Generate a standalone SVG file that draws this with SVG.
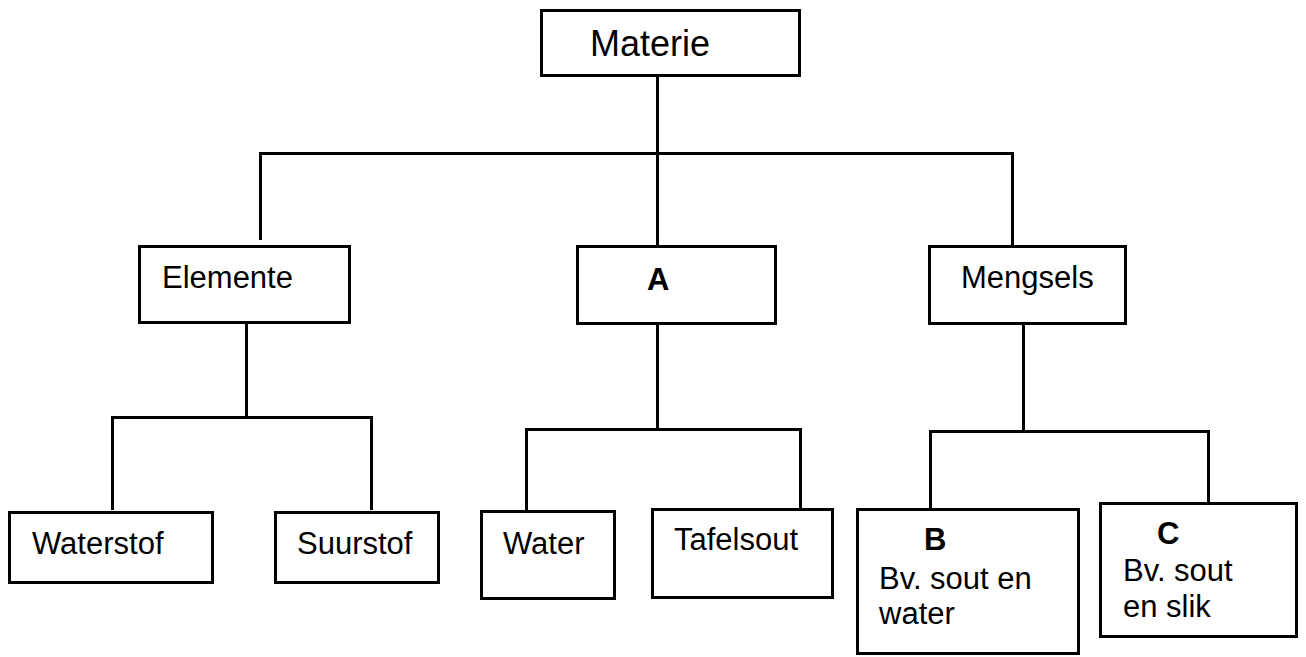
<svg xmlns="http://www.w3.org/2000/svg" width="1306" height="657" viewBox="0 0 1306 657">
<style>
.box{fill:#fff;stroke:#000;stroke-width:3}
.ln{fill:none;stroke:#000;stroke-width:3}
text{font-family:"Liberation Sans",Arial,sans-serif;fill:#000;font-size:31px}
.big{font-size:36px}
.b{font-weight:bold}
</style>
<rect width="1306" height="657" fill="#fff"/>
<g id="connectors">
<path class="ln" d="M657.5 76 V153.5"/>
<path class="ln" d="M260.5 240 V153.5 H1012.5 V246"/>
<path class="ln" d="M657.5 153.5 V246"/>
<path class="ln" d="M246.5 323 V417.5"/>
<path class="ln" d="M112.5 510 V417.5 H371.5 V510"/>
<path class="ln" d="M657.5 324 V429.5"/>
<path class="ln" d="M526.5 510 V429.5 H800.5 V508"/>
<path class="ln" d="M1023.5 324 V431.5"/>
<path class="ln" d="M930.5 508 V431.5 H1208.5 V502"/>
</g>
<g id="materie"><rect class="box" x="541.5" y="10.5" width="258" height="65"/><text class="big" x="590" y="56">Materie</text></g>
<g id="elemente"><rect class="box" x="139.5" y="246.5" width="210" height="76"/><text x="162" y="288">Elemente</text></g>
<g id="a"><rect class="box" x="577.5" y="246.5" width="198" height="77"/><text class="b" x="647" y="290">A</text></g>
<g id="mengsels"><rect class="box" x="929.5" y="246.5" width="196" height="77"/><text x="961" y="288">Mengsels</text></g>
<g id="waterstof"><rect class="box" x="9.5" y="512.5" width="203" height="70"/><text x="32" y="554">Waterstof</text></g>
<g id="suurstof"><rect class="box" x="275.5" y="512.5" width="163" height="70"/><text x="297" y="554">Suurstof</text></g>
<g id="water"><rect class="box" x="481.5" y="511.5" width="133" height="87"/><text x="503" y="554">Water</text></g>
<g id="tafelsout"><rect class="box" x="652.5" y="509.5" width="180" height="88"/><text x="674" y="550">Tafelsout</text></g>
<g id="b"><rect class="box" x="857.5" y="509.5" width="221" height="144"/><text class="b" x="924" y="550">B</text><text x="879" y="589">Bv. sout en</text><text x="879" y="624">water</text></g>
<g id="c"><rect class="box" x="1100.5" y="503.5" width="196" height="133"/><text class="b" x="1157" y="544">C</text><text x="1123" y="581">Bv. sout</text><text x="1123" y="617">en slik</text></g>
</svg>
